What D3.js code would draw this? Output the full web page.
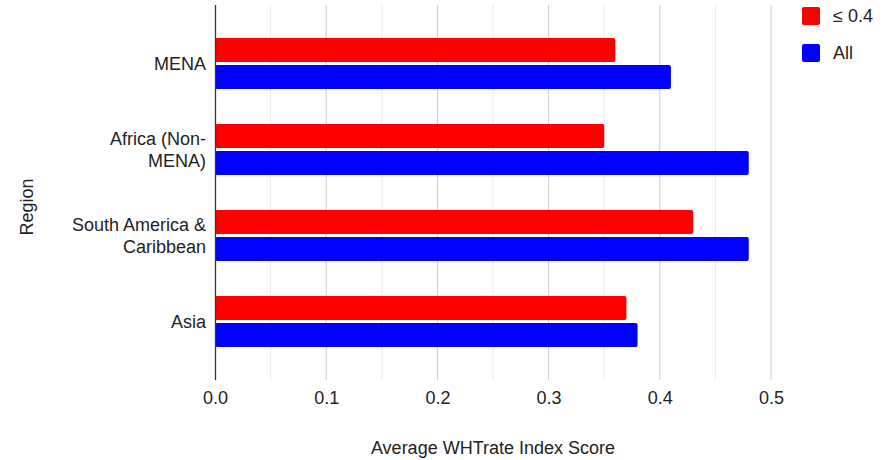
<!DOCTYPE html>
<html><head><meta charset="utf-8">
<script src="https://cdn.jsdelivr.net/npm/d3@7"></script>
<style>body{margin:0;background:#fff}svg{display:block;font-family:"Liberation Sans",Arial,sans-serif}</style>
</head><body>
<svg id="c" width="891" height="460"></svg>
<script>
const categories = [["MENA"], ["Africa (Non-", "MENA)"], ["South America &", "Caribbean"], ["Asia"]];
const seriesNames = ["≤ 0.4", "All"];
const seriesColors = ["#ff0000", "#0000ff"];
const lowValues = [0.36, 0.35, 0.43, 0.37];
const allValues = [0.41, 0.48, 0.48, 0.38];
const xTicks = [0, 0.1, 0.2, 0.3, 0.4, 0.5];
const xMinor = [0.05, 0.15, 0.25, 0.35, 0.45];

(function(){
const FF = '"Liberation Sans",Arial,sans-serif';
const svg = d3.select("#c");
const pLeft = 215, pRight = 771, pTop = 5, pBottom = 380;
const x = d3.scaleLinear().domain([0, 0.5]).range([pLeft, pRight]);
const keys = categories.map((c, i) => i);
const y = d3.scaleBand().domain(keys).range([20.6, 364.4]).padding(0);

svg.append("g").selectAll("line").data(xMinor).join("line")
  .attr("x1", d => x(d)).attr("x2", d => x(d)).attr("y1", pTop).attr("y2", pBottom)
  .attr("stroke", "#ebebeb").attr("stroke-width", 1);
svg.append("g").selectAll("line").data(xTicks.slice(1)).join("line")
  .attr("x1", d => x(d)).attr("x2", d => x(d)).attr("y1", pTop).attr("y2", pBottom)
  .attr("stroke", "#cccccc").attr("stroke-width", 1);

const bh = 24, gap = 1.5;
const data = keys.map(i => ({i, low: lowValues[i], all: allValues[i]}));
svg.append("g").selectAll("rect").data(data).join("rect")
  .attr("x", x(0)).attr("y", d => y(d.i) + y.bandwidth()/2 - gap - bh)
  .attr("width", d => x(d.low) - x(0)).attr("height", bh)
  .attr("rx", 2).attr("fill", seriesColors[0]);
svg.append("g").selectAll("rect").data(data).join("rect")
  .attr("x", x(0)).attr("y", d => y(d.i) + y.bandwidth()/2 + gap)
  .attr("width", d => x(d.all) - x(0)).attr("height", bh)
  .attr("rx", 2).attr("fill", seriesColors[1]);

svg.append("line").attr("x1", x(0)+0.5).attr("x2", x(0)+0.5).attr("y1", pTop).attr("y2", pBottom)
  .attr("stroke", "#333").attr("stroke-width", 1.3);

const xAxis = d3.axisBottom(x).tickValues(xTicks).tickFormat(d3.format(".1f")).tickSize(0).tickPadding(11);
const gx = svg.append("g").attr("transform", `translate(0,${pBottom})`).call(xAxis);
gx.select(".domain").remove();
gx.selectAll("text").attr("font-size", 18).attr("fill", "#222").attr("font-family", FF);

const gy = svg.append("g");
categories.forEach((lines, i) => {
  const cy = y(i) + y.bandwidth()/2;
  const n = lines.length, lh = 22;
  lines.forEach((t, j) => {
    gy.append("text").attr("x", 206).attr("y", cy + (j - (n-1)/2) * lh)
      .attr("dy", "0.35em").attr("text-anchor", "end")
      .attr("font-size", 18).attr("fill", "#222").text(t);
  });
});

svg.append("text").attr("x", 493).attr("y", 448).attr("dy", "0.35em").attr("text-anchor", "middle")
  .attr("font-size", 18).attr("fill", "#222").text("Average WHTrate Index Score");
svg.append("text").attr("transform", "translate(27,207) rotate(-90)").attr("dy", "0.35em")
  .attr("text-anchor", "middle").attr("font-size", 18).attr("fill", "#222").text("Region");

const lg = svg.append("g");
seriesNames.forEach((s, i) => {
  const ly = 16 + i * 37;
  lg.append("rect").attr("x", 802).attr("y", ly - 9).attr("width", 18).attr("height", 18)
    .attr("rx", 2).attr("fill", seriesColors[i]);
  lg.append("text").attr("x", 833).attr("y", ly).attr("dy", "0.35em")
    .attr("font-size", 18).attr("fill", "#222").text(s);
});
})();
</script>
</body></html>
